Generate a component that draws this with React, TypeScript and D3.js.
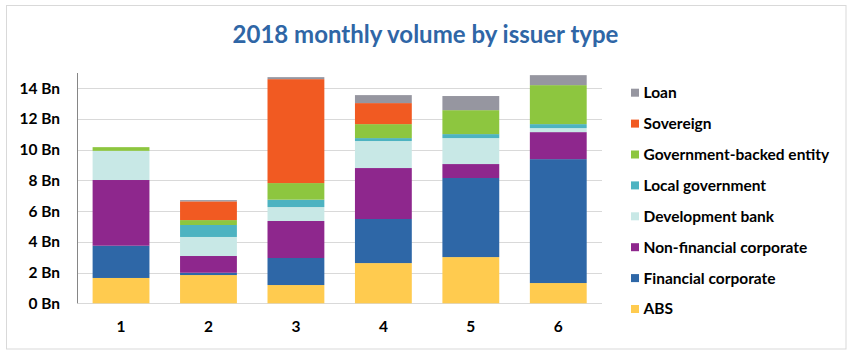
import React from "react";
import * as d3 from "d3";

const months = ["1", "2", "3", "4", "5", "6"];
const seriesNames = [
  "ABS",
  "Financial corporate",
  "Non-financial corporate",
  "Development bank",
  "Local government",
  "Government-backed entity",
  "Sovereign",
  "Loan",
];
const seriesColors = [
  "#FFCB4F",
  "#2E67A7",
  "#8E278D",
  "#C8E8E6",
  "#4DB3C1",
  "#8DC63F",
  "#F15A22",
  "#9696A0",
];
// values in Bn, per month, in series order above
const absVals = [1.65, 1.84, 1.19, 2.62, 3.01, 1.32];
const finVals = [2.1, 0.15, 1.76, 2.87, 5.15, 8.07];
const nonFinVals = [4.28, 1.09, 2.41, 3.32, 0.91, 1.76];
const devBankVals = [1.9, 1.24, 0.91, 1.76, 1.69, 0.26];
const localGovVals = [0, 0.78, 0.48, 0.19, 0.26, 0.26];
const govBackedVals = [0.24, 0.32, 1.08, 0.91, 1.56, 2.54];
const sovereignVals = [0, 1.22, 6.77, 1.37, 0, 0];
const loanVals = [0, 0.08, 0.13, 0.52, 0.92, 0.65];
const yTicks = [0, 2, 4, 6, 8, 10, 12, 14];
const legendOrder = [
  "Loan",
  "Sovereign",
  "Government-backed entity",
  "Local government",
  "Development bank",
  "Non-financial corporate",
  "Financial corporate",
  "ABS",
];

const allVals = [absVals, finVals, nonFinVals, devBankVals, localGovVals, govBackedVals, sovereignVals, loanVals];

export default function App() {
  const W = 860;
  const H = 358;
  const font = "Lato, 'Open Sans', sans-serif";
  const rows = months.map((m, i) => {
    const r: any = { month: m };
    seriesNames.forEach((s, k) => (r[s] = allVals[k][i]));
    return r;
  });
  const stacked = d3.stack<any>().keys(seriesNames)(rows);
  const x = d3.scaleBand<string>().domain(months).range([77.3, 602]).paddingInner(0.35).paddingOuter(0.175);
  const y = d3.scaleLinear().domain([0, 15]).range([303.3, 73]);
  const color = d3.scaleOrdinal<string, string>().domain(seriesNames).range(seriesColors);
  const legendY = d3.scalePoint<string>().domain(legendOrder).range([92.7, 309]);

  return (
    <svg width={W} height={H} style={{ position: "absolute", left: 0, top: 0, display: "block" }} fontFamily={font}>
      <rect x={0} y={0} width={W} height={H} fill="#fff" />
      <rect x={6.5} y={5.5} width={839.5} height={343.5} fill="none" stroke="#D9D9D9" strokeWidth={1} />
      <text x={425.5} y={42.5} textAnchor="middle" fontSize={24} fontWeight={700} fill="#2F66A6">
        2018 monthly volume by issuer type
      </text>
      {yTicks.map((t) => (
        <g key={t}>
          <line x1={77.3} x2={602} y1={Math.round(y(t)) + 0.5} y2={Math.round(y(t)) + 0.5} stroke="#D9D9D9" strokeWidth={1} />
          <text x={60} y={y(t)} dy="0.35em" textAnchor="end" fontSize={15.5} fontWeight={700} fill="#000">
            {`${t} Bn`}
          </text>
        </g>
      ))}
      {stacked.map((layer) => (
        <g key={layer.key} fill={color(layer.key)}>
          {layer.map((d, i) =>
            d[1] - d[0] > 0 ? (
              <rect
                key={i}
                x={x(months[i])}
                width={x.bandwidth()}
                y={y(d[1])}
                height={y(d[0]) - y(d[1])}
              />
            ) : null
          )}
        </g>
      ))}
      <line x1={77.5} x2={77.5} y1={y(15)} y2={y(0)} stroke="#868686" strokeWidth={1} />
      {months.map((m) => (
        <text key={m} x={(x(m) as number) + x.bandwidth() / 2} y={332} textAnchor="middle" fontSize={15.5} fontWeight={700} fill="#000">
          {m}
        </text>
      ))}
      {legendOrder.map((s) => (
        <g key={s} transform={`translate(631, ${legendY(s)})`}>
          <rect x={0} y={-4} width={8} height={8} fill={color(s)} />
          <text x={12.5} y={0} dy="0.35em" fontSize={15.5} fontWeight={700} fill="#000">
            {s}
          </text>
        </g>
      ))}
    </svg>
  );
}
